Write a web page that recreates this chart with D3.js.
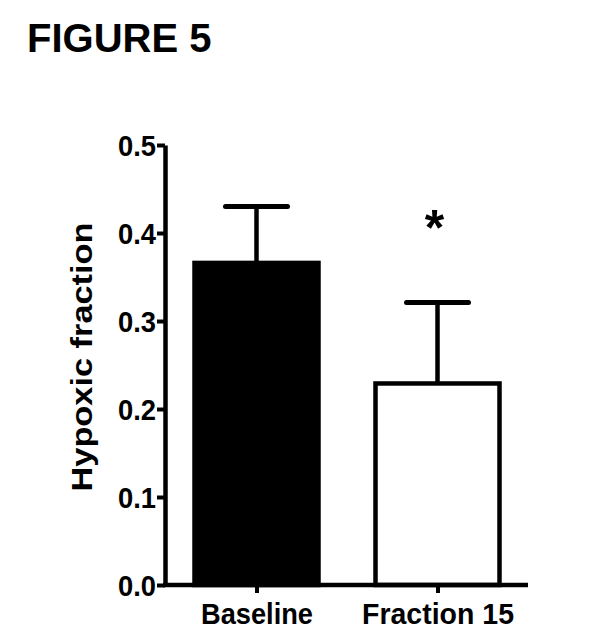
<!DOCTYPE html>
<html><head><meta charset="utf-8">
<script src="https://cdn.jsdelivr.net/npm/d3@7/dist/d3.min.js"></script>
<style>body{margin:0;background:#fff}svg{display:block}text{font-family:Arial,"Liberation Sans",sans-serif;font-weight:bold;fill:#000}</style>
</head><body>
<svg id="c" width="601" height="636"></svg>
<script>
const categories = ["Baseline", "Fraction 15"];
const labelWidths = [112, 152];
const means = [0.366, 0.229];
const errors = [0.064, 0.092];
const fills = ["#000", "#fff"];
const yTicks = [0.0, 0.1, 0.2, 0.3, 0.4, 0.5];
const significance = ["", "*"];

const svg = d3.select("#c");
const y = d3.scaleLinear().domain([0, 0.5]).range([585, 145]);
const x = d3.scalePoint().domain(categories).range([166, 528]).padding(0.5);
const barW = 124;

svg.append("text").attr("x", 27).attr("y", 52).attr("font-size", 40).text("FIGURE 5");

// bars
categories.forEach((c, i) => {
  const cx = x(c);
  svg.append("rect").attr("x", cx - barW/2).attr("y", y(means[i]))
    .attr("width", barW).attr("height", y(0) - y(means[i]))
    .attr("fill", fills[i]).attr("stroke", "#000").attr("stroke-width", 4.5);
  svg.append("line").attr("x1", cx).attr("x2", cx).attr("y1", y(means[i])).attr("y2", y(means[i] + errors[i]))
    .attr("stroke", "#000").attr("stroke-width", 4.5);
  svg.append("line").attr("x1", cx - 31).attr("x2", cx + 31).attr("y1", y(means[i] + errors[i])).attr("y2", y(means[i] + errors[i]))
    .attr("stroke", "#000").attr("stroke-width", 5).attr("stroke-linecap", "round");
  if (significance[i]) {
    svg.append("text").attr("x", cx - 3).attr("y", y(means[i] + errors[i]) - 58)
      .attr("text-anchor", "middle").attr("font-size", 50).text(significance[i]);
  }
});

// y axis
const yAxis = svg.append("g").attr("transform", "translate(165,0)")
  .call(d3.axisLeft(y).tickValues(yTicks).tickFormat(d3.format(".1f")).tickSize(8).tickSizeOuter(0));
yAxis.select(".domain").attr("stroke-width", 4.5).attr("stroke", "#000");
yAxis.selectAll(".tick line").attr("stroke-width", 4).attr("stroke", "#000");
yAxis.selectAll(".tick text").attr("font-size", 30).attr("font-family", null).attr("x", -9).attr("dy", "0.36em")
  .attr("textLength", 38).attr("lengthAdjust", "spacingAndGlyphs");

// x axis
const xAxis = svg.append("g").attr("transform", "translate(0,585)")
  .call(d3.axisBottom(x).tickSize(8).tickSizeOuter(0));
xAxis.select(".domain").attr("stroke-width", 4.5).attr("stroke", "#000").attr("d", "M163,0H528");
xAxis.selectAll(".tick line").attr("stroke-width", 4).attr("stroke", "#000");
xAxis.selectAll(".tick text").attr("font-size", 30).attr("font-family", null).attr("y", 18).attr("dy", "0.71em")
  .attr("textLength", (d, i) => labelWidths[i]).attr("lengthAdjust", "spacingAndGlyphs");

svg.append("text").attr("transform", "translate(92,357) rotate(-90)")
  .attr("text-anchor", "middle").attr("font-size", 30)
  .attr("textLength", 269).attr("lengthAdjust", "spacingAndGlyphs").text("Hypoxic fraction");
</script>
</body></html>
